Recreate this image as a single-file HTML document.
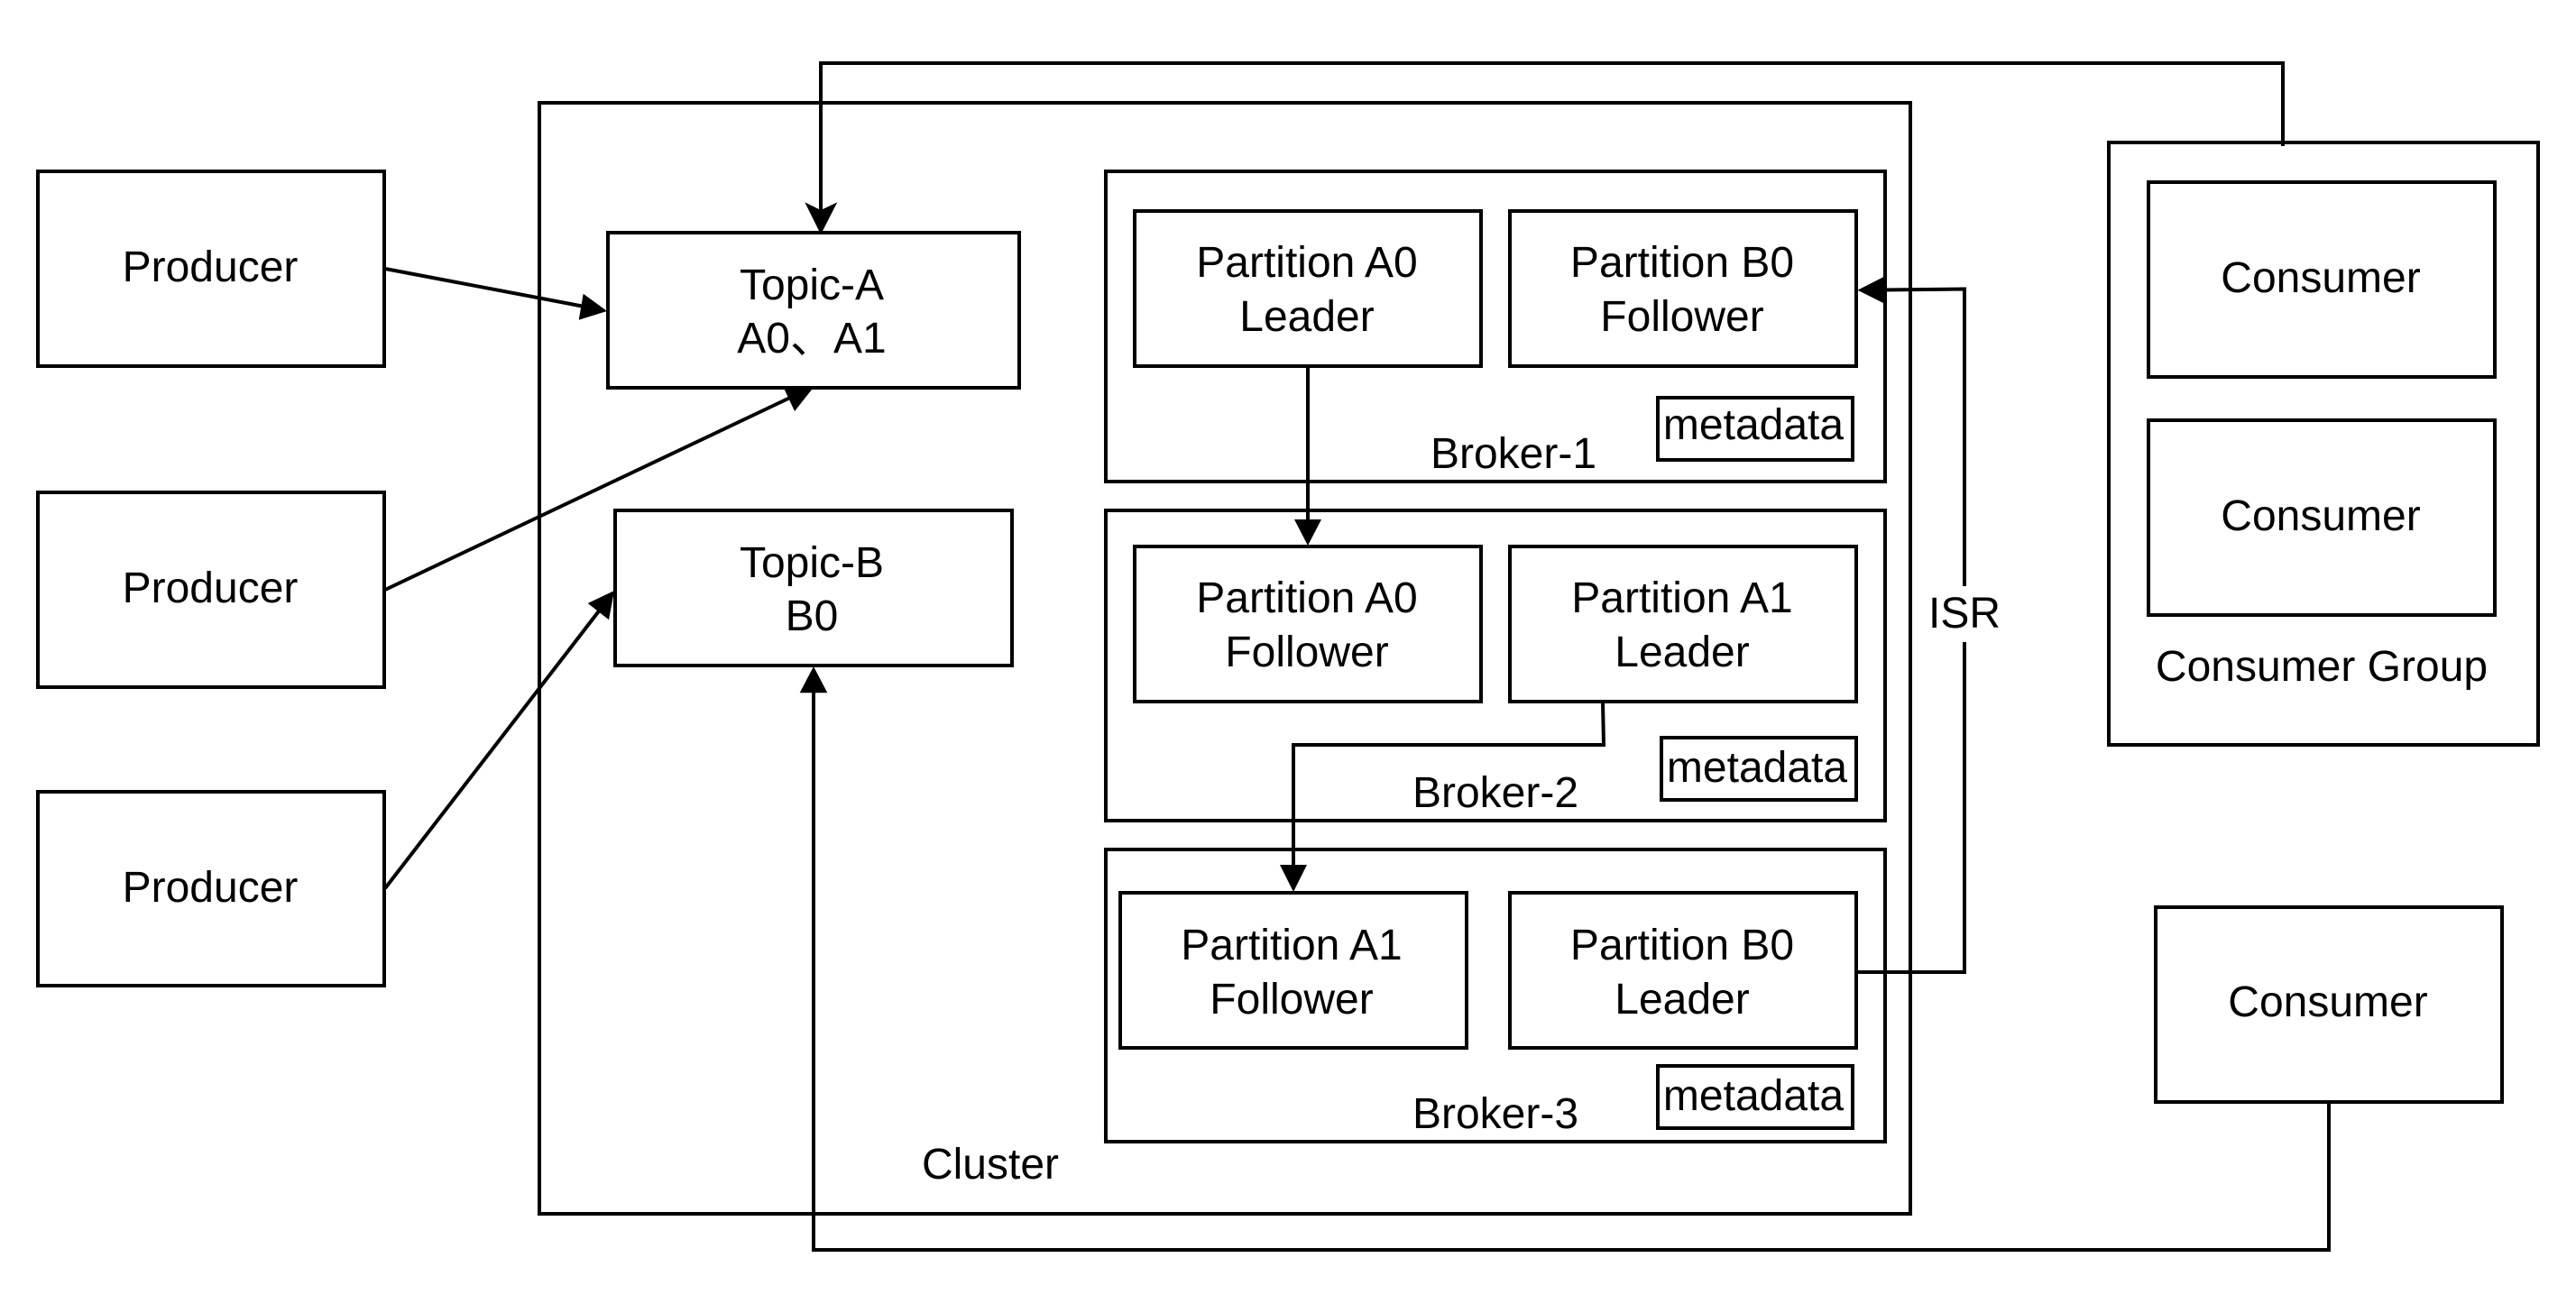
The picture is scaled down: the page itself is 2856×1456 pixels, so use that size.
<!DOCTYPE html>
<html>
<head>
<meta charset="utf-8">
<style>
html,body{margin:0;padding:0;background:#fff;width:2856px;height:1456px;overflow:hidden}
svg{display:block}
text{font-family:"Liberation Sans","Noto Sans CJK SC",sans-serif;font-size:48px;fill:#000;text-anchor:middle}
rect{fill:none;stroke:#000;stroke-width:4}
rect.w{fill:#fff}
.c{fill:none;stroke:#000;stroke-width:4}
polygon{fill:#000;stroke:none}
</style>
</head>
<body>
<svg width="2856" height="1456" viewBox="0 0 2856 1456" xmlns="http://www.w3.org/2000/svg">
<rect width="2856" height="1456" style="fill:#fff;stroke:none"/>

<!-- containers -->
<rect x="598" y="114" width="1520" height="1232"/>
<rect x="1226" y="190" width="864" height="344"/>
<rect x="1226" y="566" width="864" height="344"/>
<rect x="1226" y="942" width="864" height="324"/>
<rect x="2338" y="158" width="476" height="668"/>

<!-- producers -->
<rect x="42" y="190" width="384" height="216"/>
<rect x="42" y="546" width="384" height="216"/>
<rect x="42" y="878" width="384" height="215"/>
<text x="233" y="312">Producer</text>
<text x="233" y="668">Producer</text>
<text x="233" y="1000">Producer</text>

<!-- producer connectors -->
<path class="c" d="M427 298L648 340"/>
<polygon points="673,345 646.7,325.7 641.7,354.7"/>
<path class="c" d="M427 654L878 440"/>
<polygon points="904,427 881,456 867.3,426.8"/>
<path class="c" d="M427 985L666 675"/>
<polygon points="681,655 651.7,669 675,687.3"/>

<!-- topics -->
<rect class="w" x="674" y="258" width="456" height="172"/>
<rect class="w" x="682" y="566" width="440" height="172"/>
<text x="900" y="332">Topic-A</text>
<text x="900" y="391">A0、A1</text>
<text x="900" y="640">Topic-B</text>
<text x="900" y="699">B0</text>

<!-- partitions -->
<rect x="1258" y="234" width="384" height="172"/>
<rect x="1674" y="234" width="384" height="172"/>
<rect x="1258" y="606" width="384" height="172"/>
<rect x="1674" y="606" width="384" height="172"/>
<rect x="1242" y="990" width="384" height="172"/>
<rect x="1674" y="990" width="384" height="172"/>
<text x="1449" y="307">Partition A0</text>
<text x="1449" y="367">Leader</text>
<text x="1865" y="307">Partition B0</text>
<text x="1865" y="367">Follower</text>
<text x="1449" y="679">Partition A0</text>
<text x="1449" y="739">Follower</text>
<text x="1865" y="679">Partition A1</text>
<text x="1865" y="739">Leader</text>
<text x="1432" y="1064">Partition A1</text>
<text x="1432" y="1124">Follower</text>
<text x="1865" y="1064">Partition B0</text>
<text x="1865" y="1124">Leader</text>

<!-- metadata -->
<rect x="1838" y="441" width="216" height="69"/>
<rect x="1842" y="818" width="216" height="69"/>
<rect x="1838" y="1182" width="216" height="69"/>
<text x="1944" y="487">metadata</text>
<text x="1948" y="867">metadata</text>
<text x="1944" y="1231">metadata</text>

<!-- labels -->
<text x="1678" y="519">Broker-1</text>
<text x="1658" y="895">Broker-2</text>
<text x="1658" y="1251">Broker-3</text>
<text x="1098" y="1307">Cluster</text>

<!-- consumers -->
<rect x="2382" y="202" width="384" height="216"/>
<rect x="2382" y="466" width="384" height="216"/>
<rect x="2390" y="1006" width="384" height="216"/>
<text x="2573" y="324">Consumer</text>
<text x="2573" y="588">Consumer</text>
<text x="2574" y="755">Consumer Group</text>
<text x="2581" y="1127">Consumer</text>

<!-- connectors -->
<path class="c" d="M2531 162V70H910V234"/>
<polygon points="910,260 892.3,224.3 910,233 928.3,224.3"/>
<path class="c" d="M2582 1222V1386H902V766"/>
<polygon points="902,739 886.7,768.3 917.3,768.3"/>
<path class="c" d="M1450 406V578"/>
<polygon points="1450,605 1435,576 1465,576"/>
<path class="c" d="M1777 778L1778 826H1434V961"/>
<polygon points="1434,989 1419,959 1449,959"/>
<path class="c" d="M2058 1078H2178V320.5L2087 321.5"/>
<polygon points="2059.5,321.7 2089,306.7 2089,336.5"/>
<rect x="2145" y="650" width="68" height="62" style="fill:#fff;stroke:none"/>
<text x="2178" y="696">ISR</text>
</svg>
</body>
</html>
